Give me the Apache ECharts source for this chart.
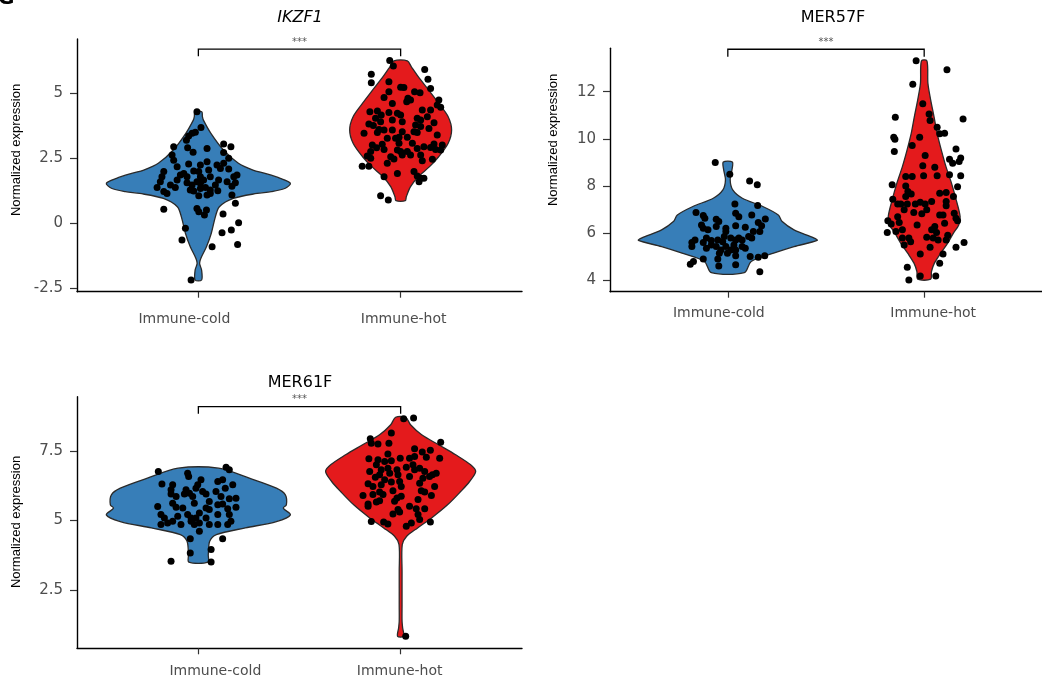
<!DOCTYPE html>
<html><head><meta charset="utf-8">
<script src="https://cdn.jsdelivr.net/npm/echarts@6/dist/echarts.min.js"></script>
<style>html,body{margin:0;padding:0;background:#fff}#c{width:1042px;height:679px}</style>
</head><body><div id="c"></div>
<script>
// ---------- data ----------
const categories = ['Immune-cold', 'Immune-hot'];
const genes = ['IKZF1', 'MER57F', 'MER61F'];
const yTicksIKZF1 = [-2.5, 0, 2.5, 5];
const yTicksMER57F = [4, 6, 8, 10, 12];
const yTicksMER61F = [2.5, 5, 7.5];
const significance = ['***', '***', '***'];

// violin outlines: [expression, half width in category units]
const violinIKZF1Cold = [[4.29,0.017],[4.1,0.02],[3.97,0.025],[3.46,0.062],[2.82,0.124],[2.31,0.198],[2.05,0.27],[1.92,0.33],[1.73,0.405],[1.54,0.455],[1.35,0.43],[1.22,0.36],[1.15,0.29],[0.96,0.173],[0.64,0.104],[0.25,0.084],[-0.38,0.064],[-0.9,0.04],[-1.35,0.012],[-1.54,0.006],[-1.8,0.016],[-2.18,0.016]];
const violinIKZF1Hot = [[6.25,0.033],[6.02,0.053],[5.64,0.087],[5.13,0.138],[4.62,0.188],[4.1,0.235],[3.59,0.252],[3.08,0.235],[2.56,0.188],[2.18,0.143],[1.79,0.087],[1.41,0.049],[1.02,0.028],[0.87,0.023]];
const violinMER57FCold = [[9.02,0.023],[8.69,0.021],[8.27,0.012],[7.84,0.025],[7.49,0.074],[7.14,0.178],[6.78,0.257],[6.5,0.277],[6.15,0.337],[5.8,0.44],[5.7,0.455],[5.44,0.337],[5.16,0.233],[4.81,0.119],[4.34,0.084]];
const violinMER57FHot = [[13.31,0.014],[12.36,0.019],[11.66,0.033],[10.95,0.05],[10.24,0.066],[9.54,0.087],[8.83,0.111],[8.13,0.139],[7.42,0.163],[6.71,0.183],[6.36,0.176],[6.01,0.149],[5.58,0.119],[5.16,0.084],[4.74,0.052],[4.38,0.037],[4.06,0.033]];
const violinMER61FCold = [[6.88,0.1],[6.52,0.252],[6.16,0.386],[5.92,0.43],[5.56,0.435],[5.44,0.42],[5.2,0.455],[4.96,0.386],[4.73,0.232],[4.49,0.089],[4.25,0.056],[3.77,0.049],[3.5,0.047]];
const violinMER61FHot = [[8.71,0.025],[8.44,0.049],[8.08,0.104],[7.72,0.188],[7.36,0.272],[7.0,0.346],[6.76,0.371],[6.4,0.341],[6.04,0.297],[5.56,0.232],[5.09,0.153],[4.73,0.084],[4.43,0.03],[4.13,0.008],[3.17,0.007],[1.97,0.007],[1.37,0.007],[1.13,0.01],[0.83,0.015]];

// samples: [jitter offset from category, expression]
const pointsIKZF1Cold = [[-0.007,4.29],[0.013,3.69],[-0.031,3.46],[-0.015,3.5],[-0.048,3.36],[-0.059,3.2],[0.125,3.05],[0.161,2.95],[-0.122,2.95],[-0.053,2.91],[-0.026,2.73],[0.043,2.88],[0.125,2.72],[-0.13,2.63],[-0.122,2.43],[-0.048,2.28],[0.043,2.37],[0.125,2.31],[0.15,2.5],[0.109,2.11],[0.15,2.09],[-0.171,1.99],[-0.072,1.92],[-0.023,2.01],[0.002,1.99],[0.051,2.05],[0.01,1.79],[0.191,1.86],[0.175,1.79],[-0.18,1.79],[-0.188,1.6],[-0.105,1.665],[-0.056,1.56],[-0.007,1.6],[0.01,1.54],[0.059,1.79],[0.1,1.665],[0.142,1.6],[0.183,1.56],[-0.204,1.38],[-0.138,1.47],[-0.114,1.38],[-0.04,1.28],[0.01,1.34],[0.035,1.38],[0.059,1.28],[0.096,1.25],[0.166,1.43],[-0.171,1.22],[-0.155,1.15],[-0.023,1.24],[0.002,1.06],[0.043,1.09],[0.059,1.15],[0.166,1.09],[0.183,0.77],[-0.171,0.54],[-0.007,0.57],[0.002,0.45],[0.04,0.51],[0.03,0.32],[0.122,0.36],[-0.064,-0.19],[-0.081,-0.64],[0.117,-0.36],[0.163,-0.26],[0.199,0.02],[0.194,-0.81],[0.068,-0.9],[-0.036,-2.18],[-0.089,1.86],[0.084,1.47],[0.026,1.665],[-0.031,1.47],[-0.056,1.79],[-0.105,2.18],[0.092,2.24],[0.01,2.24]];
const pointsIKZF1Hot = [[-0.054,6.26],[-0.036,6.05],[-0.145,5.73],[-0.145,5.41],[0.119,5.92],[0.135,5.54],[-0.058,5.45],[0.148,5.19],[0,5.23],[0.016,5.22],[-0.058,5.06],[-0.082,4.84],[0.069,5.06],[0.096,5.02],[0.036,4.81],[0.049,4.74],[0.03,4.68],[-0.041,4.61],[0.189,4.74],[0.181,4.55],[0.198,4.46],[-0.152,4.29],[-0.115,4.32],[-0.096,4.17],[-0.058,4.26],[-0.016,4.23],[0,4.17],[0.107,4.36],[0.148,4.36],[0.132,4.1],[0.082,4.04],[0.099,3.97],[-0.124,4.04],[-0.099,3.91],[-0.157,3.82],[-0.135,3.76],[-0.041,3.97],[0.008,3.91],[0.165,3.87],[0.074,3.78],[0.099,3.72],[0.14,3.65],[-0.107,3.61],[-0.082,3.59],[-0.041,3.59],[-0.181,3.46],[-0.115,3.49],[0.008,3.52],[0.066,3.52],[0.082,3.49],[0.181,3.4],[-0.066,3.27],[-0.025,3.27],[-0.008,3.31],[0.033,3.31],[0.058,3.08],[-0.008,3.08],[-0.091,3.04],[0.165,3.05],[0.206,3.01],[-0.14,3.01],[-0.119,2.91],[-0.082,2.84],[-0.016,2.82],[0,2.76],[0.033,2.76],[0.082,2.88],[0.115,2.95],[0.148,2.92],[0.173,2.84],[0.198,2.82],[-0.148,2.76],[0.049,2.63],[0.099,2.63],[0.008,2.63],[-0.049,2.56],[-0.165,2.59],[-0.148,2.5],[-0.033,2.47],[0.107,2.41],[0.157,2.46],[-0.066,2.31],[-0.19,2.2],[-0.157,2.2],[0.066,1.99],[-0.016,1.92],[-0.082,1.79],[0.082,1.82],[0.099,1.73],[0.115,1.73],[0.091,1.6],[-0.099,1.06],[-0.061,0.9]];
const pointsMER57FCold = [[-0.064,9.0],[0.01,8.51],[0.111,8.22],[0.15,8.06],[0.036,7.25],[0.152,7.18],[-0.162,6.88],[-0.125,6.76],[-0.117,6.64],[-0.059,6.6],[-0.046,6.5],[0.04,6.85],[0.056,6.71],[0.122,6.78],[0.191,6.61],[-0.134,6.36],[-0.125,6.22],[-0.059,6.29],[-0.01,6.22],[0.04,6.32],[0.089,6.26],[0.155,6.46],[0.172,6.32],[0.163,6.08],[-0.01,6.08],[-0.018,5.87],[-0.109,5.8],[-0.167,5.72],[-0.183,5.61],[-0.183,5.44],[-0.125,5.61],[-0.084,5.7],[-0.051,5.72],[-0.026,5.65],[-0.01,5.44],[0.015,5.8],[0.04,5.72],[0.056,5.8],[0.106,5.87],[0.122,5.8],[0.031,5.51],[0.073,5.44],[0.089,5.37],[-0.109,5.37],[-0.059,5.44],[-0.035,5.3],[0.04,5.3],[-0.043,5.16],[-0.125,4.91],[-0.051,4.91],[-0.046,4.62],[0.04,5.05],[0.114,5.02],[0.155,4.99],[0.188,5.05],[0.04,4.67],[-0.191,4.69],[-0.175,4.81],[0.163,4.38],[-0.084,5.51],[0.015,5.3],[-0.002,5.16],[0.073,5.72],[-0.101,6.15],[0.13,6.08]];
const pointsMER57FHot = [[-0.041,13.31],[0.116,12.93],[-0.058,12.32],[-0.007,11.49],[-0.147,10.92],[0.025,11.06],[0.198,10.85],[0.03,10.78],[0.066,10.5],[0.104,10.24],[0.079,10.22],[-0.155,10.07],[-0.149,9.99],[-0.023,10.07],[-0.152,9.47],[-0.061,9.72],[0.162,9.57],[0.005,9.3],[0.129,9.14],[0.186,9.19],[0.145,8.97],[0.178,9.04],[-0.007,8.86],[0.054,8.8],[-0.094,8.41],[-0.061,8.41],[-0.003,8.44],[0.066,8.44],[0.129,8.48],[0.186,8.44],[-0.163,8.06],[-0.094,8.01],[-0.083,7.77],[-0.066,7.67],[0.079,7.7],[0.112,7.73],[0.17,7.98],[0.149,7.56],[-0.16,7.45],[-0.094,7.56],[-0.119,7.25],[-0.086,7.25],[-0.045,7.25],[-0.02,7.32],[0.005,7.25],[0.038,7.35],[0.112,7.17],[-0.102,7.0],[-0.053,6.88],[-0.012,6.83],[0.013,7.0],[0.079,6.78],[0.096,6.78],[0.153,6.85],[0.162,6.64],[0.17,6.54],[-0.185,6.54],[-0.168,6.4],[-0.135,6.71],[-0.127,6.46],[-0.111,6.15],[-0.144,6.08],[-0.188,6.04],[-0.036,6.36],[0.054,6.29],[0.104,6.43],[0.063,6.04],[0.12,5.92],[-0.078,5.8],[-0.102,5.51],[0.013,5.84],[0.046,5.8],[0.071,5.72],[0.112,5.72],[0.203,5.61],[0.162,5.41],[-0.02,5.13],[0.03,5.41],[0.096,5.13],[0.079,4.74],[-0.086,4.57],[-0.078,4.03],[-0.02,4.2],[0.059,4.2],[-0.111,5.8],[-0.069,5.65],[0.038,6.15],[-0.135,7.25],[0.112,7.35]];
const pointsMER61FCold = [[-0.198,6.76],[-0.053,6.7],[-0.048,6.58],[0.137,6.91],[0.153,6.82],[-0.18,6.31],[-0.127,6.28],[0.013,6.46],[-0.003,6.28],[0.096,6.4],[0.12,6.46],[0.17,6.28],[-0.135,6.1],[-0.061,6.1],[-0.044,5.98],[-0.012,6.16],[0.021,6.04],[0.038,5.95],[0.087,6.04],[0.133,6.16],[0.112,5.86],[0.153,5.78],[0.186,5.8],[-0.135,5.95],[-0.069,5.95],[-0.028,5.86],[-0.201,5.5],[-0.127,5.62],[-0.11,5.47],[-0.077,5.45],[-0.02,5.62],[0.038,5.45],[0.054,5.39],[0.096,5.56],[0.12,5.59],[0.145,5.42],[0.186,5.47],[0.153,5.21],[-0.185,5.21],[-0.168,5.09],[-0.102,5.15],[-0.053,5.21],[-0.012,5.09],[0.038,5.09],[0.096,5.21],[-0.185,4.85],[-0.152,4.91],[-0.127,4.97],[-0.036,4.97],[-0.02,4.85],[0.005,4.91],[0.054,4.85],[0.096,4.85],[0.145,4.85],[0.161,4.97],[0.005,4.61],[-0.04,4.34],[0.12,4.34],[-0.04,3.83],[0.063,3.95],[-0.135,3.53],[0.063,3.5],[-0.036,5.09],[-0.086,4.85],[0.005,5.27],[-0.11,5.86],[0.054,5.68]];
const pointsMER61FHot = [[0.015,8.66],[0.064,8.68],[-0.046,8.14],[-0.15,7.94],[-0.145,7.78],[-0.112,7.75],[-0.058,7.78],[0.198,7.81],[-0.063,7.39],[0.069,7.58],[0.107,7.46],[0.147,7.52],[-0.157,7.22],[-0.112,7.18],[-0.079,7.12],[-0.046,7.15],[-0.002,7.24],[0.044,7.24],[0.069,7.3],[0.127,7.27],[0.193,7.24],[-0.153,6.76],[-0.12,7.0],[-0.096,6.82],[-0.063,6.88],[-0.018,6.82],[0.028,6.91],[0.061,7.0],[0.094,6.88],[0.119,6.76],[0.157,6.64],[0.176,6.7],[-0.125,6.55],[-0.104,6.64],[-0.054,6.7],[-0.013,6.64],[0.044,6.58],[0.11,6.52],[0.143,6.58],[-0.161,6.32],[-0.137,6.22],[-0.096,6.28],[-0.046,6.38],[0.003,6.22],[0.094,6.34],[0.168,6.22],[-0.104,6.02],[-0.087,5.93],[-0.186,5.9],[-0.038,6.07],[0.102,6.07],[0.119,6.02],[0.152,5.9],[-0.161,5.59],[-0.12,5.66],[-0.104,5.71],[-0.03,5.69],[-0.018,5.81],[0.003,5.87],[0.086,5.75],[-0.161,5.51],[-0.005,5.3],[-0.038,5.23],[-0.013,5.39],[0.044,5.51],[0.077,5.42],[0.119,5.42],[0.086,5.21],[0.094,5.03],[0.053,4.91],[0.028,4.79],[-0.145,4.96],[-0.084,4.94],[-0.063,4.87],[0.147,4.94],[0.025,0.83],[0.069,6.82],[-0.079,6.46],[-0.137,5.93],[-0.005,6.4]];

// ---------- layout / style ----------
const BLUE = '#377EB8', RED = '#E41A1C';
const FONT = 'DejaVu Sans';
const panels = [
  {grid:{left:77, top:39, width:445, height:252.7}, ymin:-2.63, ymax:7.09, ticks:yTicksIKZF1,
   violins:[violinIKZF1Cold, violinIKZF1Hot], points:[pointsIKZF1Cold, pointsIKZF1Hot],
   bracket:[6.70, 6.43], labelShift:[-14, 3], labelMargin:21, title:{x:300, y:18, italic:true}, yname:{x:16, y:150}},
  {grid:{left:610, top:48.3, width:445, height:243.4}, ymin:3.53, ymax:13.84, ticks:yTicksMER57F,
   violins:[violinMER57FCold, violinMER57FHot], points:[pointsMER57FCold, pointsMER57FHot],
   bracket:[13.80, 13.48], labelShift:[-9, 9], labelMargin:15, title:{x:833, y:18, italic:false}, yname:{x:553, y:140}},
  {grid:{left:77, top:396.7, width:445, height:251.6}, ymin:0.40, ymax:9.45, ticks:yTicksMER61F,
   violins:[violinMER61FCold, violinMER61FHot], points:[pointsMER61FCold, pointsMER61FHot],
   bracket:[9.09, 8.84], labelShift:[17, -1], labelMargin:16, title:{x:300, y:383, italic:false}, yname:{x:16, y:522}}
];

function fmtTick(v){ return String(v); }
function shiftPad(s){ return s < 0 ? [0, -2*s, 0, 0] : [0, 0, 0, 2*s]; }

const option = {
  animation:false, backgroundColor:'#fff',
  grid:[], xAxis:[], yAxis:[], series:[], graphic:[]
};

panels.forEach((p, g) => {
  option.grid.push(Object.assign({containLabel:false}, p.grid));
  option.xAxis.push({
    type:'value', gridIndex:g, min:0.4, max:2.6,
    axisLine:{show:true, onZero:false, lineStyle:{color:'#000', width:1.4}},
    axisTick:{show:true, length:6, customValues:[1,2], lineStyle:{color:'#333', width:1.2}},
    axisLabel:{show:true, customValues:[1,2], margin:p.labelMargin, color:'#4d4d4d',
      fontFamily:FONT, fontSize:14,
      formatter:(v)=> { const i = Math.round(v)-1; return '{l' + i + '|' + categories[i] + '}'; },
      rich:{
        l0:{fontFamily:FONT, fontSize:14, color:'#4d4d4d', padding:shiftPad(p.labelShift[0])},
        l1:{fontFamily:FONT, fontSize:14, color:'#4d4d4d', padding:shiftPad(p.labelShift[1])}
      }},
    splitLine:{show:false}
  });
  option.yAxis.push({
    type:'value', gridIndex:g, min:p.ymin, max:p.ymax,
    axisLine:{show:true, onZero:false, lineStyle:{color:'#000', width:1.4}},
    axisTick:{show:true, length:7, customValues:p.ticks, lineStyle:{color:'#333', width:1.2}},
    axisLabel:{show:true, customValues:p.ticks, margin:14, color:'#4d4d4d', fontFamily:FONT, fontSize:15, formatter:fmtTick},
    splitLine:{show:false}
  });
  const colors = [BLUE, RED];
  p.violins.forEach((prof, k) => {
    const cat = k + 1;
    option.series.push({
      type:'custom', xAxisIndex:g, yAxisIndex:g, silent:true, z:2, clip:false,
      data:[[cat, prof[0][0]]],
      renderItem:function(params, api){
        const right = prof.map(r => api.coord([cat + r[1], r[0]]));
        const left = prof.slice().reverse().map(r => api.coord([cat - r[1], r[0]]));
        return {type:'polygon', shape:{points:right.concat(left), smooth:0.3},
          style:{fill:colors[k], stroke:'#2a2a2a', lineWidth:1.3}};
      }
    });
  });
  p.points.forEach((pts, k) => {
    const cat = k + 1;
    option.series.push({
      type:'scatter', xAxisIndex:g, yAxisIndex:g, silent:true, z:5,
      symbol:'circle', symbolSize:7, itemStyle:{color:'#000', opacity:1},
      data: pts.map(d => [cat + d[0], d[1]])
    });
  });
  option.series.push({
    type:'custom', xAxisIndex:g, yAxisIndex:g, silent:true, z:6, clip:false,
    data:[[1, p.bracket[0]]],
    renderItem:function(params, api){
      const a = api.coord([1, p.bracket[1]]), b = api.coord([1, p.bracket[0]]),
            c = api.coord([2, p.bracket[0]]), d = api.coord([2, p.bracket[1]]);
      return {type:'group', children:[
        {type:'polyline', shape:{points:[a,b,c,d]}, style:{stroke:'#000', lineWidth:1.3, fill:null}},
        {type:'text', x:(b[0]+c[0])/2, y:b[1]-2, style:{text:significance[g], fill:'#555',
          font:'10px ' + FONT, align:'center', verticalAlign:'bottom'}}
      ]};
    }
  });
  option.graphic.push({type:'text', x:p.title.x, y:p.title.y, silent:true,
    style:{text:genes[g], fill:'#000', font:(p.title.italic ? 'italic ' : '') + '16px ' + FONT,
      align:'center', verticalAlign:'middle'}});
  option.graphic.push({type:'text', x:p.yname.x, y:p.yname.y, rotation:Math.PI/2, silent:true,
    style:{text:'Normalized expression', fill:'#000', font:'13px "Liberation Sans Narrow", "Liberation Sans", sans-serif',
      align:'center', verticalAlign:'middle'}});
});
// cut-off panel letter at the top-left corner
option.graphic.push({type:'text', x:-2, y:-11, silent:true,
  style:{text:'G', fill:'#000', font:'bold 20px ' + FONT, align:'left', verticalAlign:'top'}});

const chart = echarts.init(document.getElementById('c'), null, {renderer:'canvas'});
chart.setOption(option);
</script></body></html>
